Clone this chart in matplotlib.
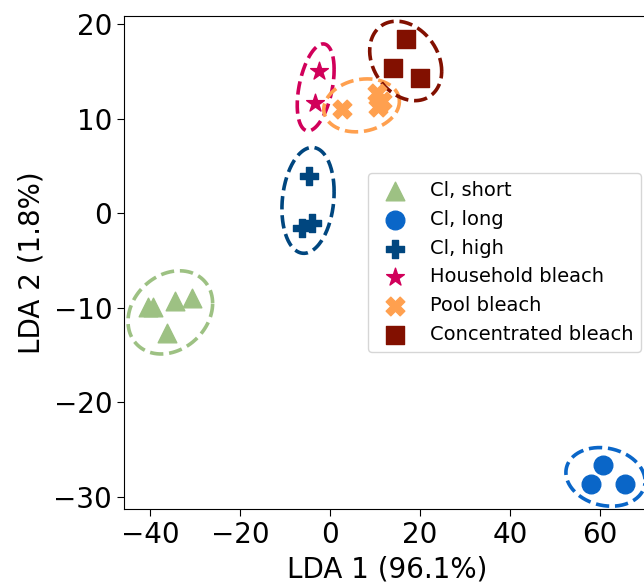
import numpy as np
import matplotlib
matplotlib.use("Agg")
import matplotlib.pyplot as plt

# group labels, colours and markers
groups = ["Cl, short", "Cl, long", "Cl, high", "Household bleach", "Pool bleach", "Concentrated bleach"]
colors = ["#9dc183", "#0a66c8", "#00467f", "#d1005a", "#ffa04f", "#821000"]
markers = ["^", "o", "P", "*", "X", "s"]

# LDA scores
lda1 = [
    [-40.4, -39.4, -34.4, -30.7, -36.3],
    [60.7, 57.9, 65.6],
    [-4.6, -6.3, -4.1],
    [-2.4, -3.3],
    [2.7, 10.4, 11.6, 10.7],
    [16.9, 14.0, 20.0],
]
lda2 = [
    [-9.9, -9.9, -9.3, -9.0, -12.7],
    [-26.6, -28.7, -28.7],
    [3.9, -1.6, -1.0],
    [15.0, 11.6],
    [11.0, 12.7, 11.9, 11.2],
    [18.4, 15.3, 14.3],
]

# dashed group ellipses: centre, half extent in x / y, phase (tilt)
ell_cx = [-35.5, 61.2, -4.9, -3.2, 7.0, 16.8]
ell_cy = [-10.5, -27.9, 1.35, 13.3, 11.4, 16.1]
ell_ax = [9.4, 8.8, 5.8, 4.1, 8.4, 8.0]
ell_ay = [4.4, 3.1, 5.6, 4.6, 2.8, 4.2]
ell_phi = [0.22, -0.15, 0.16, 0.42, 0.15, -0.26]

fig = plt.figure(figsize=(6.44, 5.83), dpi=100)
ax = fig.add_axes([0.1925, 0.1269, 0.8183, 0.8456])

t = np.linspace(0, 2 * np.pi, 200)
for i, g in enumerate(groups):
    ax.scatter(lda1[i], lda2[i], s=180, c=colors[i], marker=markers[i],
               label=g, zorder=3)
    ex = ell_cx[i] + ell_ax[i] * np.cos(t)
    ey = ell_cy[i] + ell_ay[i] * np.sin(t + ell_phi[i])
    ax.plot(ex, ey, "--", color=colors[i], lw=2.6, zorder=2)

ax.set_xlim(-45.8, 71.3)
ax.set_ylim(-31.3, 20.85)
ax.set_xticks([-40, -20, 0, 20, 40, 60])
ax.set_yticks([-30, -20, -10, 0, 10, 20])
ax.tick_params(labelsize=20, length=5)
ax.set_xlabel("LDA 1 (96.1%)", fontsize=20, labelpad=5)
ax.set_ylabel("LDA 2 (1.8%)", fontsize=20, labelpad=6)
ax.legend(loc="center right", fontsize=14)

fig.savefig("out.png", dpi=100)
